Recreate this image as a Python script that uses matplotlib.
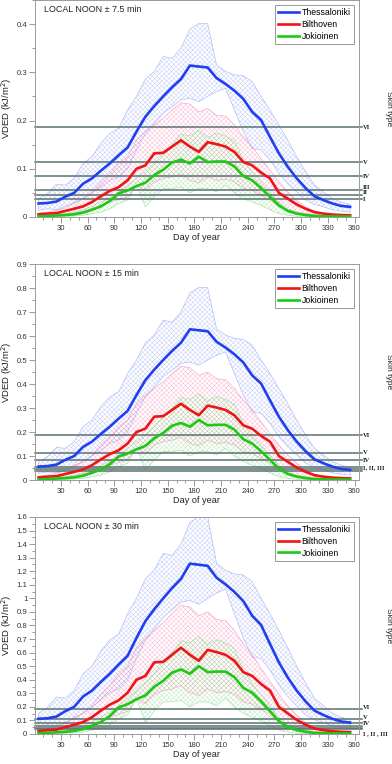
import matplotlib.pyplot as plt
import numpy as np
from matplotlib.ticker import MultipleLocator, FormatStrFormatter

plt.rcParams['font.family'] = ['Liberation Sans', 'DejaVu Sans']
plt.rcParams['hatch.linewidth'] = 0.22

# 10-day means, local noon +- 7.5 min (kJ/m2); the other windows scale with length
days = np.arange(5, 360, 10)
thes = [0.028, 0.029, 0.032, 0.042, 0.050, 0.069, 0.080, 0.096, 0.111, 0.128,
        0.144, 0.177, 0.208, 0.230, 0.250, 0.269, 0.286, 0.314, 0.312, 0.310,
        0.288, 0.276, 0.262, 0.245, 0.218, 0.201, 0.166, 0.132, 0.104, 0.080,
        0.060, 0.043, 0.035, 0.028, 0.023, 0.021]
thes_hi = [0.038, 0.049, 0.068, 0.066, 0.080, 0.111, 0.125, 0.153, 0.173, 0.184,
           0.222, 0.250, 0.286, 0.302, 0.333, 0.329, 0.350, 0.390, 0.401, 0.401,
           0.315, 0.302, 0.295, 0.293, 0.281, 0.250, 0.222, 0.191, 0.159, 0.125,
           0.094, 0.066, 0.052, 0.038, 0.031, 0.026]
thes_lo = [0.014, 0.017, 0.015, 0.022, 0.028, 0.038, 0.050, 0.062, 0.076, 0.083,
           0.100, 0.139, 0.173, 0.194, 0.215, 0.229, 0.243, 0.246, 0.239, 0.250,
           0.260, 0.267, 0.222, 0.177, 0.142, 0.139, 0.118, 0.090, 0.069, 0.052,
           0.035, 0.026, 0.021, 0.015, 0.012, 0.010]
bilt = [0.0055, 0.007, 0.008, 0.0125, 0.017, 0.022, 0.031, 0.043, 0.054, 0.062,
        0.076, 0.100, 0.107, 0.132, 0.133, 0.146, 0.159, 0.146, 0.135, 0.155,
        0.151, 0.146, 0.135, 0.114, 0.107, 0.092, 0.080, 0.050, 0.038, 0.026,
        0.017, 0.010, 0.007, 0.005, 0.004, 0.0035]
bilt_hi = [0.008, 0.010, 0.014, 0.019, 0.031, 0.038, 0.052, 0.073, 0.090, 0.111,
           0.125, 0.159, 0.177, 0.191, 0.205, 0.222, 0.237, 0.234, 0.218, 0.225,
           0.211, 0.209, 0.191, 0.166, 0.146, 0.121, 0.097, 0.073, 0.052, 0.035,
           0.021, 0.012, 0.008, 0.0055, 0.005, 0.004]
bilt_lo = [0.003, 0.0035, 0.004, 0.006, 0.008, 0.012, 0.017, 0.024, 0.031, 0.036,
           0.042, 0.066, 0.055, 0.073, 0.080, 0.083, 0.089, 0.076, 0.071, 0.083,
           0.076, 0.078, 0.073, 0.059, 0.055, 0.045, 0.035, 0.021, 0.015, 0.010,
           0.007, 0.005, 0.0035, 0.003, 0.003, 0.003]
joki = [0.0015, 0.002, 0.003, 0.004, 0.0055, 0.009, 0.015, 0.022, 0.033, 0.049,
        0.055, 0.064, 0.071, 0.087, 0.098, 0.113, 0.119, 0.111, 0.125, 0.114,
        0.115, 0.115, 0.105, 0.085, 0.076, 0.060, 0.042, 0.024, 0.0125, 0.007,
        0.004, 0.002, 0.0015, 0.001, 0.001, 0.001]
joki_hi = [0.0035, 0.004, 0.0055, 0.007, 0.010, 0.015, 0.022, 0.031, 0.040, 0.052,
           0.066, 0.080, 0.095, 0.112, 0.133, 0.150, 0.172, 0.168, 0.180, 0.165,
           0.174, 0.168, 0.158, 0.118, 0.092, 0.073, 0.052, 0.031, 0.017, 0.010,
           0.0055, 0.0035, 0.002, 0.002, 0.002, 0.002]
joki_lo = [0.0, 0.0, 0.0007, 0.0015, 0.002, 0.0035, 0.007, 0.010, 0.017, 0.028,
           0.035, 0.066, 0.021, 0.042, 0.059, 0.059, 0.062, 0.050, 0.059, 0.059,
           0.052, 0.066, 0.050, 0.038, 0.031, 0.024, 0.015, 0.007, 0.0035, 0.0015,
           0.0007, 0.0007, 0.0007, 0.0007, 0.0007, 0.0007]

stations = ['Thessaloniki', 'Bilthoven', 'Jokioinen']
windows = [7.5, 15, 30]
ymax = [0.45, 0.9, 1.6]
titles = ['LOCAL NOON ± 7.5 min', 'LOCAL NOON ± 15 min', 'LOCAL NOON ± 30 min']
skin_levels = [0.037, 0.046, 0.056, 0.084, 0.114, 0.186]
skin_labels = [['I', 'II', 'III', 'IV', 'V', 'VI'],
               ['I, II, III', 'IV', 'V', 'VI'],
               ['I , II , III', 'IV', 'V', 'VI']]
skin_label_y = [[0.036, 0.050, 0.061, 0.084, 0.114, 0.186],
                [0.050, 0.083, 0.114, 0.185],
                [0.005, 0.075, 0.12, 0.195]]

means = [thes, bilt, joki]
highs = [thes_hi, bilt_hi, joki_hi]
lows = [thes_lo, bilt_lo, joki_lo]
line_cols = ['#1f3ff0', '#f01515', '#1ec814']
band_cols = ['#a4b2f6', '#f896c0', '#98e098']

fig = plt.figure(figsize=(3.92, 7.64), dpi=100)
boxes = [[0.0893, 0.716, 0.8265, 0.284],
         [0.0893, 0.3717, 0.8265, 0.2827],
         [0.0893, 0.0393, 0.8265, 0.284]]

for p in range(3):
    ax = fig.add_axes(boxes[p])
    k = windows[p] / windows[0]
    for s in range(3):
        ax.fill_between(days, np.array(lows[s]) * k, np.array(highs[s]) * k,
                        facecolor='none', edgecolor=band_cols[s], hatch='xxxxxxx',
                        linewidth=0.4, zorder=1)
    for lv in skin_levels:
        ax.axhline(lv, xmin=0, xmax=1.008, color='#5a7272', lw=1.1,
                   zorder=2, clip_on=False)
    for s in range(3):
        ax.plot(days, np.array(means[s]) * k, color=line_cols[s], lw=1.9,
                label=stations[s], zorder=3)
    for lab, yy in zip(skin_labels[p], skin_label_y[p]):
        ax.text(1.012, yy, lab, transform=ax.get_yaxis_transform(),
                family=['Liberation Serif'], fontweight='bold', fontsize=4.8,
                va='center', ha='left', color='#222222')
    ax.text(1.09, 0.5, 'Skin type', transform=ax.transAxes, rotation=270,
            fontsize=6.1, va='center', ha='center', color='#222222')
    ax.text(0.028, 0.975, titles[p], transform=ax.transAxes, fontsize=6.4,
            va='top', ha='left', color='#222222')

    ax.set_xlim(1, 365)
    ax.set_ylim(0, ymax[p])
    ax.xaxis.set_major_locator(MultipleLocator(30))
    ax.xaxis.set_minor_locator(MultipleLocator(10))
    ax.yaxis.set_major_locator(MultipleLocator(0.1))
    ax.yaxis.set_minor_locator(MultipleLocator(0.05))
    ax.yaxis.set_major_formatter(FormatStrFormatter('%g'))
    ax.set_xticks(np.arange(30, 361, 30))
    for sp in ax.spines.values():
        sp.set_color('#9a9a9a')
        sp.set_linewidth(0.7)
    ax.tick_params(which='both', direction='out', color='#8a8a8a', width=0.6,
                   labelsize=5.6, labelcolor='#333333', pad=1.5)
    ax.tick_params(which='major', length=4)
    ax.tick_params(which='minor', length=2.2)
    ax.set_xlabel('Day of year', fontsize=6.6, color='#222222')
    ax.xaxis.set_label_coords(0.5, -0.075)
    ax.set_ylabel('VDED (kJ/m$^2$)', fontsize=6.8, color='#222222')
    ax.yaxis.set_label_coords(-0.064, 0.5)
    leg = ax.legend(loc='upper right', fontsize=6.3, fancybox=False,
                    edgecolor='#888888', framealpha=1, handlelength=2.4,
                    handletextpad=0.35, borderpad=0.35, labelspacing=0.3,
                    borderaxespad=0.6)
    leg.get_frame().set_linewidth(0.6)

fig.savefig('out.png', dpi=100)
